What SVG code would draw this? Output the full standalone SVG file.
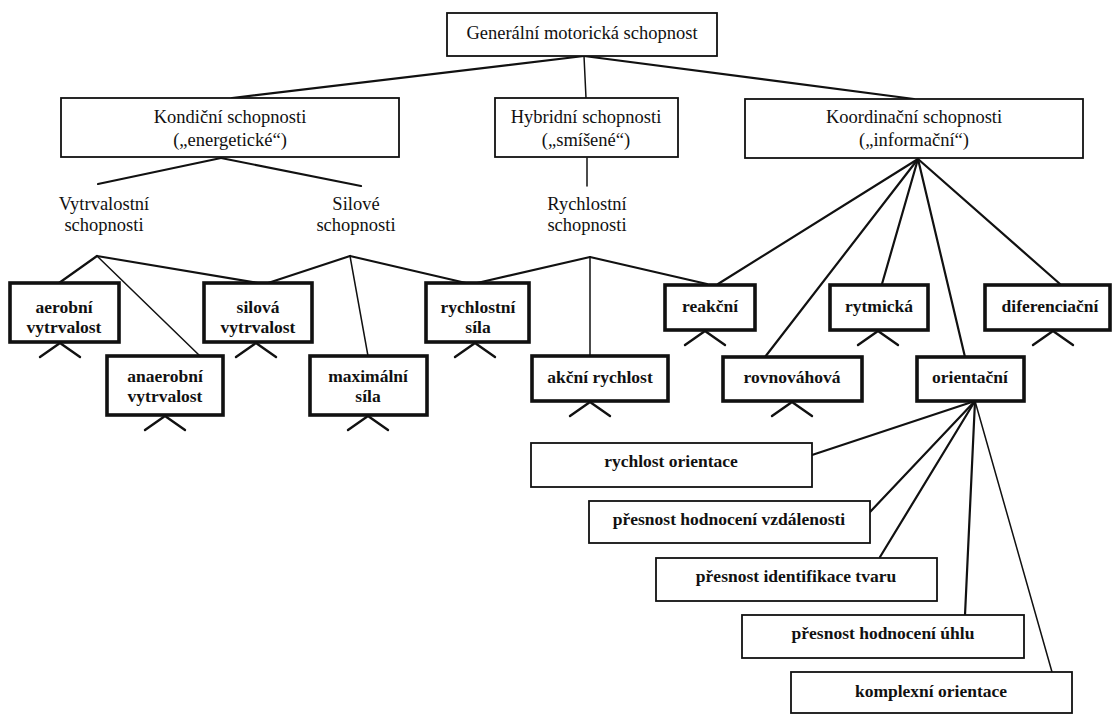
<svg xmlns="http://www.w3.org/2000/svg" width="1113" height="714" viewBox="0 0 1113 714">
<style>
.bg{fill:#fff}
.n{fill:#fff;stroke:#111;stroke-width:1.8}
.k{fill:#fff;stroke:#111;stroke-width:3.6}
.t{font-family:"Liberation Serif","Times New Roman",serif;font-size:18.5px;fill:#111;text-anchor:middle}
.b{font-family:"Liberation Serif","Times New Roman",serif;font-size:17.5px;font-weight:bold;fill:#111;text-anchor:middle}
.c line,.c polyline{stroke:#111;stroke-width:2.2;fill:none;stroke-linecap:round;stroke-linejoin:round}
.c .th{stroke-width:1.5}
.ch{stroke:#111;stroke-width:2.4;fill:none;stroke-linecap:round;stroke-linejoin:round}
</style>
<defs>
<polyline id="chev" class="ch" points="-20,14 0,0 20,14"/>
</defs>
<rect class="bg" x="0" y="0" width="1113" height="714"/>

<g id="connectors" class="c">
<line x1="584" y1="56" x2="232" y2="98"/>
<line class="th" x1="584" y1="56" x2="586" y2="98"/>
<line x1="584" y1="56" x2="914" y2="99"/>
<line x1="221" y1="158" x2="98" y2="184"/>
<line x1="221" y1="158" x2="361" y2="186"/>
<line class="th" x1="587" y1="158" x2="587" y2="186"/>
<line x1="97" y1="256" x2="59" y2="283"/>
<line class="th" x1="97" y1="256" x2="200" y2="356"/>
<line x1="97" y1="256" x2="258" y2="283"/>
<line x1="350" y1="256" x2="268" y2="283"/>
<line class="th" x1="350" y1="256" x2="368" y2="356"/>
<line x1="350" y1="256" x2="466" y2="283"/>
<line x1="590" y1="257" x2="477" y2="283"/>
<line class="th" x1="590" y1="257" x2="590" y2="356"/>
<line x1="590" y1="257" x2="707" y2="284"/>
<line x1="918" y1="159" x2="718" y2="284"/>
<line x1="918" y1="159" x2="765" y2="357"/>
<line x1="918" y1="159" x2="882" y2="284"/>
<line x1="918" y1="159" x2="965" y2="357"/>
<line x1="918" y1="159" x2="1060" y2="284"/>
<line x1="975" y1="401" x2="812" y2="455"/>
<line x1="975" y1="401" x2="870" y2="512"/>
<line x1="975" y1="401" x2="880" y2="557"/>
<line x1="975" y1="401" x2="965" y2="615"/>
<line class="th" x1="975" y1="401" x2="1052" y2="672"/>
</g>

<g id="n-general"><rect class="n" x="447" y="13" width="270" height="43"/><text class="t" x="582" y="39">Generální motorická schopnost</text></g>
<g id="n-kondicni"><rect class="n" x="61" y="98" width="338" height="59"/><text class="t" x="230" y="123">Kondiční schopnosti</text><text class="t" x="230" y="146">(„energetické“)</text></g>
<g id="n-hybridni"><rect class="n" x="495" y="98" width="183" height="59"/><text class="t" x="586" y="123">Hybridní schopnosti</text><text class="t" x="586" y="146">(„smíšené“)</text></g>
<g id="n-koordinacni"><rect class="n" x="745" y="99" width="338" height="59"/><text class="t" x="914" y="123">Koordinační schopnosti</text><text class="t" x="914" y="146">(„informační“)</text></g>

<g id="n-vytrvalostni"><text class="t" x="104" y="210">Vytrvalostní</text><text class="t" x="104" y="231">schopnosti</text></g>
<g id="n-silove"><text class="t" x="356" y="210">Silové</text><text class="t" x="356" y="231">schopnosti</text></g>
<g id="n-rychlostni"><text class="t" x="587" y="210">Rychlostní</text><text class="t" x="587" y="231">schopnosti</text></g>

<g id="n-aerobni"><rect class="k" x="10" y="283" width="109" height="59"/><text class="b" x="64" y="313">aerobní</text><text class="b" x="64" y="333">vytrvalost</text><use href="#chev" x="60" y="343"/></g>
<g id="n-silova-vytrvalost"><rect class="k" x="204" y="283" width="108" height="59"/><text class="b" x="258" y="313">silová</text><text class="b" x="258" y="333">vytrvalost</text><use href="#chev" x="256" y="343"/></g>
<g id="n-rychlostni-sila"><rect class="k" x="426" y="283" width="103" height="59"/><text class="b" x="478" y="313">rychlostní</text><text class="b" x="478" y="333">síla</text><use href="#chev" x="475" y="343"/></g>
<g id="n-anaerobni"><rect class="k" x="107" y="356" width="116" height="59"/><text class="b" x="165" y="382">anaerobní</text><text class="b" x="165" y="402">vytrvalost</text><use href="#chev" x="165" y="416"/></g>
<g id="n-maximalni"><rect class="k" x="310" y="356" width="117" height="59"/><text class="b" x="368" y="382">maximální</text><text class="b" x="368" y="402">síla</text><use href="#chev" x="368" y="416"/></g>
<g id="n-akcni"><rect class="k" x="532" y="356" width="136" height="45"/><text class="b" x="600" y="383">akční rychlost</text><use href="#chev" x="590" y="402"/></g>
<g id="n-reakcni"><rect class="k" x="665" y="285" width="90" height="45"/><text class="b" x="710" y="312">reakční</text><use href="#chev" x="705" y="331"/></g>
<g id="n-rytmicka"><rect class="k" x="830" y="285" width="98" height="45"/><text class="b" x="879" y="312">rytmická</text><use href="#chev" x="878" y="331"/></g>
<g id="n-diferenciacni"><rect class="k" x="985" y="285" width="125" height="45"/><text class="b" x="1050" y="312">diferenciační</text><use href="#chev" x="1053" y="331"/></g>
<g id="n-rovnovahova"><rect class="k" x="723" y="357" width="139" height="44"/><text class="b" x="792" y="383">rovnováhová</text><use href="#chev" x="792" y="402"/></g>
<g id="n-orientacni"><rect class="k" x="917" y="357" width="107" height="44"/><text class="b" x="970" y="383">orientační</text></g>

<g id="n-rychlost-orientace"><rect class="n" x="531" y="443" width="281" height="44"/><text class="b" x="671" y="467">rychlost orientace</text></g>
<g id="n-vzdalenost"><rect class="n" x="589" y="501" width="281" height="42"/><text class="b" x="729" y="525">přesnost hodnocení vzdálenosti</text></g>
<g id="n-tvar"><rect class="n" x="656" y="558" width="281" height="43"/><text class="b" x="796" y="582">přesnost identifikace tvaru</text></g>
<g id="n-uhel"><rect class="n" x="742" y="615" width="282" height="43"/><text class="b" x="883" y="639">přesnost hodnocení úhlu</text></g>
<g id="n-komplexni"><rect class="n" x="791" y="672" width="281" height="41"/><text class="b" x="931" y="697">komplexní orientace</text></g>
</svg>
